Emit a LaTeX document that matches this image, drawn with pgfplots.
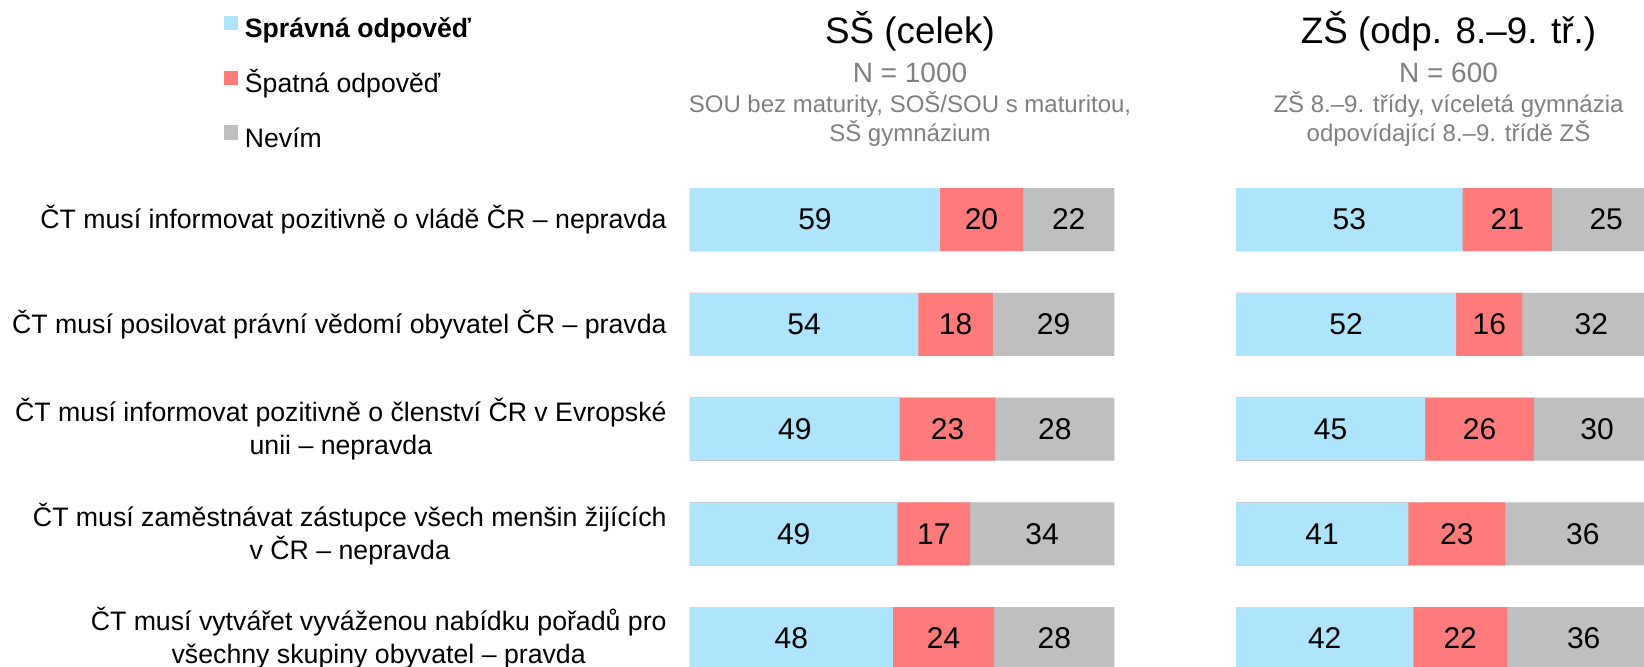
\documentclass[border=0pt]{standalone}
\usepackage{fontspec}
\setmainfont{Liberation Sans}
\usepackage{pgfplots}
\usepackage{pgfplotstable}
\pgfplotsset{compat=1.18}
\definecolor{cblue}{HTML}{AEE5FC}
\definecolor{cred}{HTML}{FF7B7B}
\definecolor{cgray}{HTML}{BFBFBF}
\definecolor{subgray}{HTML}{7F7F7F}

% SŠ (celek): a = správná, b = špatná, c = nevím; la, lb, lc = printed labels
\pgfplotstableread{
row a b c la lb lc
0 58.9 19.6 21.5 59 20 22
1 53.8 17.6 28.6 54 18 29
2 49.4 22.6 28.0 49 23 28
3 48.9 17.1 34.0 49 17 34
4 47.8 23.9 28.3 48 24 28
}\tabSS

% ZŠ (odp. 8.–9. tř.)
\pgfplotstableread{
row a b c la lb lc
0 53.4 21.1 25.5 53 21 25
1 51.9 15.6 32.5 52 16 32
2 44.6 25.6 29.8 45 26 30
3 40.6 22.9 36.5 41 23 36
4 41.8 22.1 36.1 42 22 36
}\tabZS

\pgfplotsset{
  panel/.style={
    scale only axis, height=254.675pt,
    xmin=0, ymin=-0.6, ymax=4.2625, y dir=reverse,
    axis line style={draw=none}, major tick length=0pt,
    xtick=\empty, clip=true,
  },
  seg/.style={xbar, bar width=31.5pt, bar shift=0pt, draw=none, fill=#1,
    legend image code/.code={\fill[##1] (0pt,0.5pt) rectangle (7.2pt,7.7pt);}},
  lab/.style={draw=none, mark=none, forget plot, nodes near coords,
    point meta=explicit symbolic,
    nodes near coords style={anchor=center, inner sep=0pt,
      font=\fontsize{15pt}{17pt}\selectfont}},
}

\begin{document}
\begin{tikzpicture}
\begin{axis}[panel, at={(345pt,0pt)}, anchor=south west,
  width=212.15pt, xmax=100,
  ytick={0,1,2,3,4},
  yticklabels={
    {ČT musí informovat pozitivně o vládě ČR – nepravda},
    {ČT musí posilovat právní vědomí obyvatel ČR – pravda},
    {ČT musí informovat pozitivně o členství ČR v Evropské\\unii – nepravda},
    {ČT musí zaměstnávat zástupce všech menšin žijících\\v ČR – nepravda},
    {ČT musí vytvářet vyváženou nabídku pořadů pro\\všechny skupiny obyvatel – pravda}},
  yticklabel style={font=\fontsize{13.35pt}{16.5pt}\selectfont, align=center,
    inner sep=0pt, xshift=-11.5pt},
  reverse legend, legend cell align=left,
  legend style={at={(axis description cs:-1.0983,1.2761)}, anchor=north west,
    draw=none, fill=none, inner sep=0pt, outer sep=0pt,
    row sep=13.35pt, column sep=3.3pt,
    font=\fontsize{13.3pt}{15pt}\selectfont,
    nodes={inner sep=0pt, text height=9.5pt, text depth=3pt}},
]
\addplot[seg=cgray] table[x expr=\thisrow{a}+\thisrow{b}+\thisrow{c}, y=row]{\tabSS};
\addlegendentry{Nevím}
\addplot[seg=cred] table[x expr=\thisrow{a}+\thisrow{b}, y=row]{\tabSS};
\addlegendentry{Špatná odpověď}
\addplot[seg=cblue] table[x=a, y=row]{\tabSS};
\addlegendentry{\textbf{Správná odpověď}}
\addplot[lab] table[x expr=\thisrow{a}/2, y=row, meta=la]{\tabSS};
\addplot[lab] table[x expr=\thisrow{a}+\thisrow{b}/2, y=row, meta=lb]{\tabSS};
\addplot[lab] table[x expr=\thisrow{a}+\thisrow{b}+\thisrow{c}/2, y=row, meta=lc]{\tabSS};
\end{axis}

\begin{axis}[panel, at={(618pt,0pt)}, anchor=south west,
  width=204pt, xmax=96.16, ytick=\empty]
\addplot[seg=cgray] table[x expr=\thisrow{a}+\thisrow{b}+\thisrow{c}, y=row]{\tabZS};
\addplot[seg=cred] table[x expr=\thisrow{a}+\thisrow{b}, y=row]{\tabZS};
\addplot[seg=cblue] table[x=a, y=row]{\tabZS};
\addplot[lab] table[x expr=\thisrow{a}/2, y=row, meta=la]{\tabZS};
\addplot[lab] table[x expr=\thisrow{a}+\thisrow{b}/2, y=row, meta=lb]{\tabZS};
\addplot[lab] table[x expr=\thisrow{a}+\thisrow{b}+\thisrow{c}/2, y=row, meta=lc]{\tabZS};
\end{axis}

% panel titles
\node[anchor=base, font=\fontsize{18.4pt}{20pt}\selectfont] at (455pt,311.5pt) {SŠ (celek)};
\node[anchor=base, text=subgray, font=\fontsize{14pt}{16pt}\selectfont] at (455pt,292pt) {N = 1000};
\node[anchor=base, text=subgray, font=\fontsize{12pt}{14pt}\selectfont] at (455pt,277pt) {SOU bez maturity, SOŠ/SOU s maturitou,};
\node[anchor=base, text=subgray, font=\fontsize{12pt}{14pt}\selectfont] at (455pt,262.5pt) {SŠ gymnázium};

\node[anchor=base, font=\fontsize{18.4pt}{20pt}\selectfont] at (724.25pt,311.5pt) {ZŠ (odp. 8.–9. tř.)};
\node[anchor=base, text=subgray, font=\fontsize{14pt}{16pt}\selectfont] at (724.25pt,292pt) {N = 600};
\node[anchor=base, text=subgray, font=\fontsize{12pt}{14pt}\selectfont] at (724.25pt,277pt) {ZŠ 8.–9. třídy, víceletá gymnázia};
\node[anchor=base, text=subgray, font=\fontsize{12pt}{14pt}\selectfont] at (724.25pt,262.5pt) {odpovídající 8.–9. třídě ZŠ};

\pgfresetboundingbox
\path[use as bounding box] (0pt,0pt) rectangle (822pt,333pt);
\end{tikzpicture}
\end{document}
